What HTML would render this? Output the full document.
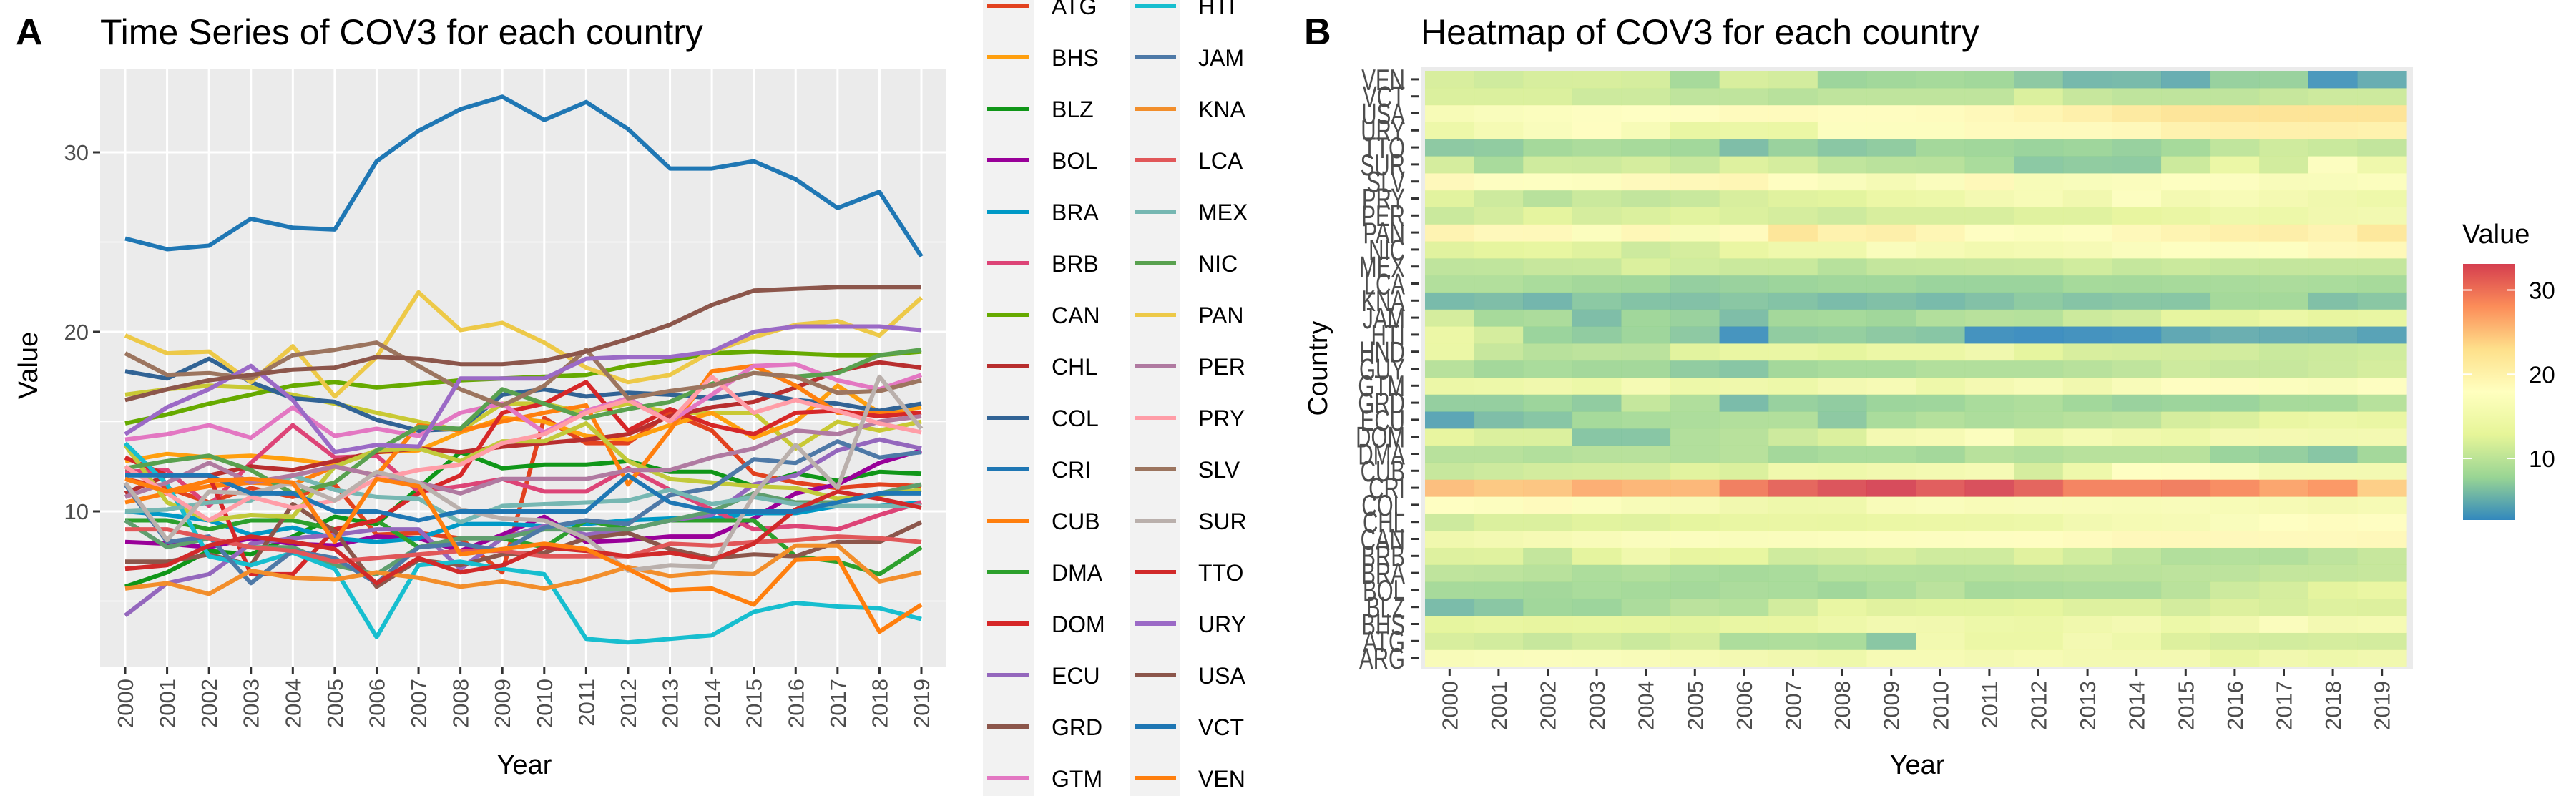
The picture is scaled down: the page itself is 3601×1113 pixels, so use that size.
<!DOCTYPE html>
<html><head><meta charset="utf-8"><style>
html,body{margin:0;padding:0;background:#fff;}
svg{display:block;font-family:"Liberation Sans",sans-serif;}
</style></head><body>
<svg id="chart" width="3601" height="1113" viewBox="0 0 3601 1113" xmlns="http://www.w3.org/2000/svg">
<text x="22" y="62" font-size="52" font-weight="bold">A</text>
<text x="140" y="62" font-size="50">Time Series of COV3 for each country</text>
<text x="1823" y="62" font-size="52" font-weight="bold">B</text>
<text x="1986" y="62" font-size="50">Heatmap of COV3 for each country</text>
<g id="lineplot"></g>
<g id="legend"></g>
<g id="heatmap"></g>
<g id="colorbar"></g>
</svg>
<script>
const years = [2000,2001,2002,2003,2004,2005,2006,2007,2008,2009,2010,2011,2012,2013,2014,2015,2016,2017,2018,2019];
const countries = ["ARG","ATG","BHS","BLZ","BOL","BRA","BRB","CAN","CHL","COL","CRI","CUB","DMA","DOM","ECU","GRD","GTM","GUY","HND","HTI","JAM","KNA","LCA","MEX","NIC","PAN","PER","PRY","SLV","SUR","TTO","URY","USA","VCT","VEN"];
const colors = ["#c9c934","#e2421f","#ff9f0e","#109618","#990099","#0099c6","#dd4477","#66aa00","#b82e2e","#316395","#1f77b4","#ff7f0e","#2ca02c","#d62728","#9467bd","#8c564b","#e377c2","#5f9e6e","#c2c93a","#17becf","#4e79a7","#f28e2b","#e15759","#76b7b2","#59a14f","#edc948","#b07aa1","#ff9da7","#9c755f","#bab0ac","#d12a2a","#9b6ac6","#8c564b","#1f77b4","#ff7f0e"];
const ARG = [16.5,16.8,17,16.9,16.5,16,15.5,15,14.5,16,16,15.5,16,15.5,15.5,15.5,13.5,15,14.5,15];
const ATG = [11.8,11.3,10.5,11.3,10.8,11.5,8.7,8.8,8.5,6.6,15.2,13.8,13.8,15.5,14.5,12.1,11.6,11.3,11.5,11.4];
const BHS = [12.8,13.2,13,13.1,12.9,12.6,13.3,13.4,14.4,15.2,15,14.2,14,14.8,15.5,14.1,15,17,15.5,15.8];
const BLZ = [5.8,6.6,7.8,7.6,8.6,9.7,9.3,11.3,13.3,12.4,12.6,12.6,12.8,12.2,12.2,11.4,12.1,11.7,12.2,12.1];
const BOL = [8.3,8.2,8,8.5,8.2,8.1,8.6,8.5,7.8,8.7,9.7,8.3,8.4,8.6,8.6,9.6,11,11.5,12.7,13.4];
const BRA = [10,9.8,9.5,8.7,9.1,8.5,8.3,8.5,9.3,9.3,9.2,9.3,9.5,9.6,9.6,9.9,9.9,10.3,10.3,10.5];
const BRB = [12.2,12.3,10.3,12.7,14.8,13,13.1,11.1,11.4,11.8,11.1,11.1,12.4,11.2,10.1,9,9.2,9,9.8,10.5];
const CAN = [14.9,15.4,16,16.5,17,17.2,16.9,17.1,17.3,17.4,17.5,17.6,18.1,18.4,18.8,18.9,18.8,18.7,18.7,18.9];
const CHL = [11,12,12,12.5,12.3,12.8,13.3,13.5,13.3,13.6,13.8,14,14.3,15.3,15.8,16.1,16.9,17.8,18.3,18];
const COL = [17.8,17.4,18.5,17.2,16.3,16.1,15.1,14.5,14.6,16.5,16.8,16.4,16.6,16.5,16.3,16.6,16.2,16,15.6,16];
const CRI = [25.2,24.6,24.8,26.3,25.8,25.7,29.5,31.2,32.4,33.1,31.8,32.8,31.3,29.1,29.1,29.5,28.5,26.9,27.8,24.2];
const CUB = [10.5,11,11.4,11.6,11.5,12.5,12,14.8,14.5,15,15.5,15.9,11.5,14.5,17.8,18.1,17,15.5,15.5,15.5];
const DMA = [9.5,9.5,9,9.5,9.5,9,9.5,8,8.5,8.5,8,9.5,9,9.5,9.5,9.5,7.5,7.2,6.5,8];
const DOM = [13,12,12,6.5,6.5,9,9.5,11,12,15.5,16,17.2,14.5,15.7,14.8,14.3,15.5,15.6,15.3,15.5];
const ECU = [4.2,6,6.5,8.2,8.5,8.7,9,9,6.8,8.5,9.2,8.7,9,9.5,9.8,11.5,12,13.4,14,13.5];
const GRD = [7.2,7.2,7.6,7,10.4,8.9,5.8,7.3,7,7.6,7.7,8.5,8.8,7.9,7.4,7.6,7.5,8.3,8.3,9.4];
const GTM = [14,14.3,14.8,14.1,15.8,14.2,14.6,14.2,15.5,16,14.4,15.6,16.3,15,16.5,18.1,18.2,17.3,16.8,17.6];
const GUY = [9.5,8,8.5,8,8,7,6.5,8,8.5,8.5,9,9,9,9.5,10,11,10.5,10.5,11,11.5];
const HND = [13.7,10.5,9.5,9.8,9.7,12.5,13.4,13.5,12.8,13.9,13.9,14.9,12.8,11.8,11.6,11.4,11.3,10.7,10.9,11.2];
const HTI = [13.8,11.5,7.5,7,7.7,6.8,3,7,7.2,6.8,6.5,2.9,2.7,2.9,3.1,4.4,4.9,4.7,4.6,4];
const JAM = [11.5,8.3,8.6,6,7.8,7.4,6,8,8.2,7.8,9.1,9.5,9.3,10.9,11.3,12.9,12.7,13.9,13,13.3];
const KNA = [5.7,6,5.4,6.7,6.3,6.2,6.6,6.3,5.8,6.1,5.7,6.2,6.9,6.4,6.6,6.5,8.1,8.1,6.1,6.6];
const LCA = [9,9,8.5,8,7.8,7.2,7.4,7.6,7.8,7.8,7.5,7.5,7.5,8.2,8.1,8.3,8.4,8.6,8.5,8.3];
const MEX = [10,10.1,10.5,10.6,12,11.2,10.8,10.7,9.4,10.3,10.4,10.5,10.6,11.2,10.4,10.8,10.4,10.3,10.3,10.3];
const NIC = [12.4,12.8,13.1,12.3,11,11.6,13.4,14.7,14.6,16.8,16,15.2,15.7,16.1,17.1,17.7,17.5,17.7,18.7,19];
const PAN = [19.8,18.8,18.9,17.2,19.2,16.4,18.6,22.2,20.1,20.5,19.4,18,17.2,17.6,18.9,19.7,20.4,20.6,19.8,21.9];
const PER = [10.8,11.6,12.7,11.6,12,12.5,12,11.6,11,11.8,11.8,11.8,12.3,12.3,13,13.5,14.5,14.3,15,15.3];
const PRY = [12.5,11,9.5,10.8,10.2,10.6,11.8,12.3,12.6,13.8,14.3,15.5,16.2,15,17.5,15.5,16.2,15.6,14.9,14.4];
const SLV = [18.8,17.6,17.7,17.4,18.7,19,19.4,18.1,16.8,15.9,17,19,16.3,16.7,17,17.7,17.5,16.6,16.7,17.3];
const SUR = [11.6,8.4,11.1,11,11.6,10.6,12.2,11.6,10.1,9.6,9.5,8.5,6.7,7,6.9,10.9,13.7,11.3,17.5,14.6];
const TTO = [6.8,7,8.1,8.6,8.3,7.9,6,7.4,6.6,7,8,7.8,7.5,7.7,7.3,8.2,10.1,11.1,10.7,10.2];
const URY = [14.3,15.8,16.8,18.1,16.2,13.3,13.7,13.6,17.4,17.4,17.4,18.5,18.6,18.6,18.9,20,20.3,20.3,20.3,20.1];
const USA = [16.2,16.8,17.3,17.6,17.9,18,18.6,18.5,18.2,18.2,18.4,18.9,19.6,20.4,21.5,22.3,22.4,22.5,22.5,22.5];
const VCT = [12,12,12,11,11,10,10,9.5,10,10,10,10,12,10.5,10,10,10,10.5,11,11];
const VEN = [11.8,11.1,11.7,11.8,11.6,8.3,11.8,11.4,7.6,7.9,8.2,7.9,6.8,5.6,5.7,4.8,7.3,7.4,3.3,4.8];
const series = [ARG,ATG,BHS,BLZ,BOL,BRA,BRB,CAN,CHL,COL,CRI,CUB,DMA,DOM,ECU,GRD,GTM,GUY,HND,HTI,JAM,KNA,LCA,MEX,NIC,PAN,PER,PRY,SLV,SUR,TTO,URY,USA,VCT,VEN];
const yTicks = [10,20,30];
const yMinor = [5,15,25];
const barTicks = [10,20,30];

const NS = "http://www.w3.org/2000/svg";
function mk(tag, attrs, parent){const e=document.createElementNS(NS,tag);for(const k in attrs)e.setAttribute(k,attrs[k]);parent.appendChild(e);return e;}

// ---------- Line chart ----------
const lp = document.getElementById('lineplot');
const P = {x0:140,x1:1323,y0:97,y1:933};
const xs = i => 175 + i*(1288-175)/(years.length-1);
const ys = v => 715 - (v-10)*25.1;
const bg = mk('rect',{x:P.x0,y:P.y0,width:P.x1-P.x0,height:P.y1-P.y0,fill:'#ebebeb'},lp);


yMinor.forEach(v=>{const l=mk('line',{x1:P.x0,x2:P.x1,y1:ys(v),y2:ys(v),stroke:'#fff','stroke-width':1.5},lp);

});
yTicks.forEach(v=>{const l=mk('line',{x1:P.x0,x2:P.x1,y1:ys(v),y2:ys(v),stroke:'#fff','stroke-width':3},lp);


const t=mk('line',{x1:P.x0-10,x2:P.x0,y1:ys(v),y2:ys(v),stroke:'#333','stroke-width':3},lp);


const tx=mk('text',{x:P.x0-16,y:ys(v)+11,'font-size':31,fill:'#4d4d4d','text-anchor':'end'},lp);


tx.textContent=v;});
years.forEach((yr,i)=>{const l=mk('line',{x1:xs(i),x2:xs(i),y1:P.y0,y2:P.y1,stroke:'#fff','stroke-width':3},lp);


const t=mk('line',{x1:xs(i),x2:xs(i),y1:P.y1,y2:P.y1+10,stroke:'#333','stroke-width':3},lp);


const tx=mk('text',{x:0,y:0,'font-size':31,fill:'#4d4d4d','text-anchor':'end',transform:`translate(${xs(i)+11},${P.y1+16}) rotate(-90)`},lp);


tx.textContent=yr;});
series.forEach((s,k)=>{const d=s.map((v,i)=>(i?'L':'M')+xs(i).toFixed(1)+','+ys(v).toFixed(1)).join('');
const p=mk('path',{d:d,fill:'none',stroke:colors[k],'stroke-width':6,'stroke-linejoin':'round'},lp);

});
const xt=mk('text',{x:733,y:1082,'font-size':38,'text-anchor':'middle'},lp);


xt.textContent='Year';
const yt=mk('text',{x:0,y:0,'font-size':38,'text-anchor':'middle',transform:'translate(52,511) rotate(-90)'},lp);


yt.textContent='Value';

// ---------- Legend ----------
const lg = document.getElementById('legend');
[[1374,1445],[1579,1650]].forEach(c=>{const r=mk('rect',{x:c[0],y:0,width:c[1]-c[0],height:1113,fill:'#f2f2f2'},lg);

});
countries.forEach((c,k)=>{let col,row;
if(k<17){col=0;row=k-1;}else{col=1;row=k-19;}
const y=8+row*72;
const kx=col?1586:1380, tx=col?1675:1470;
const g=mk('g',{},lg);


mk('line',{x1:kx,x2:kx+58,y1:y,y2:y,stroke:colors[k],'stroke-width':6},g);
const t=mk('text',{x:tx,y:y+12,'font-size':32},g);
t.textContent=c;});

// ---------- Heatmap ----------
const hm = document.getElementById('heatmap');
const H = {x0:1992,x1:3364,y0:99,y1:932};
const all = series.flat();
const vmin = Math.min(...all), vmax = Math.max(...all);
const pal = ["#3288BD","#99D594","#E6F598","#FFFFBF","#FEE08B","#FC8D59","#D53E4F"];
function hex(c){return [1,3,5].map(i=>parseInt(c.substr(i,2),16));}
function colorOf(v){let t=(v-vmin)/(vmax-vmin)*(pal.length-1);t=Math.max(0,Math.min(pal.length-1-1e-9,t));
const i=Math.floor(t),f=t-i,a=hex(pal[i]),b=hex(pal[i+1]);
return 'rgb('+a.map((x,j)=>Math.round(x+(b[j]-x)*f)).join(',')+')';}
const hb=mk('rect',{x:1986,y:94,width:1387,height:841,fill:'#ebebeb'},hm);


const cw=(H.x1-H.x0)/years.length, rh=(H.y1-H.y0)/countries.length;
const rowY = k => H.y1-(k+1)*rh;
const colX = i => H.x0+i*cw;
series.forEach((s,k)=>{s.forEach((v,i)=>{const r=mk('rect',{x:colX(i).toFixed(2),y:rowY(k).toFixed(2),width:(cw+0.6).toFixed(2),height:(rh+0.6).toFixed(2),fill:colorOf(v),'fill-opacity':0.92},hm);

});
const cy=rowY(k)+rh/2;
const tk=mk('line',{x1:1973,x2:1984,y1:cy,y2:cy,stroke:'#333','stroke-width':3},hm);


const t=mk('text',{x:1964,y:cy+13,'font-size':36,fill:'#4d4d4d','text-anchor':'end',transform:`translate(1964,${cy}) scale(0.82,1.15) translate(-1964,${-cy})`},hm);


t.textContent=countries[k];});
years.forEach((yr,i)=>{const cx=colX(i)+cw/2;
const t=mk('line',{x1:cx,x2:cx,y1:935,y2:945,stroke:'#333','stroke-width':3},hm);


const tx=mk('text',{x:0,y:0,'font-size':31,fill:'#4d4d4d','text-anchor':'end',transform:`translate(${cx+11},${952}) rotate(-90)`},hm);


tx.textContent=yr;});
const hx=mk('text',{x:2680,y:1082,'font-size':38,'text-anchor':'middle'},hm);


hx.textContent='Year';
const hy=mk('text',{x:0,y:0,'font-size':38,'text-anchor':'middle',transform:'translate(1855,515) rotate(-90)'},hm);


hy.textContent='Country';

// ---------- Colorbar ----------
const cb = document.getElementById('colorbar');
const C = {x:3443,w:73,y0:369,y1:727};
const defs=mk('defs',{},cb);
const gr=mk('linearGradient',{id:'cbg',x1:0,y1:1,x2:0,y2:0},defs);
pal.forEach((c,i)=>mk('stop',{offset:(i/(pal.length-1)),'stop-color':c},gr));
const bar=mk('rect',{x:C.x,y:C.y0,width:C.w,height:C.y1-C.y0,fill:'url(#cbg)'},cb);


const cyv = v => C.y1-(v-vmin)/(vmax-vmin)*(C.y1-C.y0);
barTicks.forEach(v=>{const y=cyv(v);
const a=mk('line',{x1:C.x,x2:C.x+12,y1:y,y2:y,stroke:'#fff','stroke-width':2},cb);


const b=mk('line',{x1:C.x+C.w-12,x2:C.x+C.w,y1:y,y2:y,stroke:'#fff','stroke-width':2},cb);


const t=mk('text',{x:3535,y:y+12,'font-size':33},cb);


t.textContent=v;});
const ct=mk('text',{x:3442,y:340,'font-size':38},cb);


ct.textContent='Value';
</script>
</body></html>
